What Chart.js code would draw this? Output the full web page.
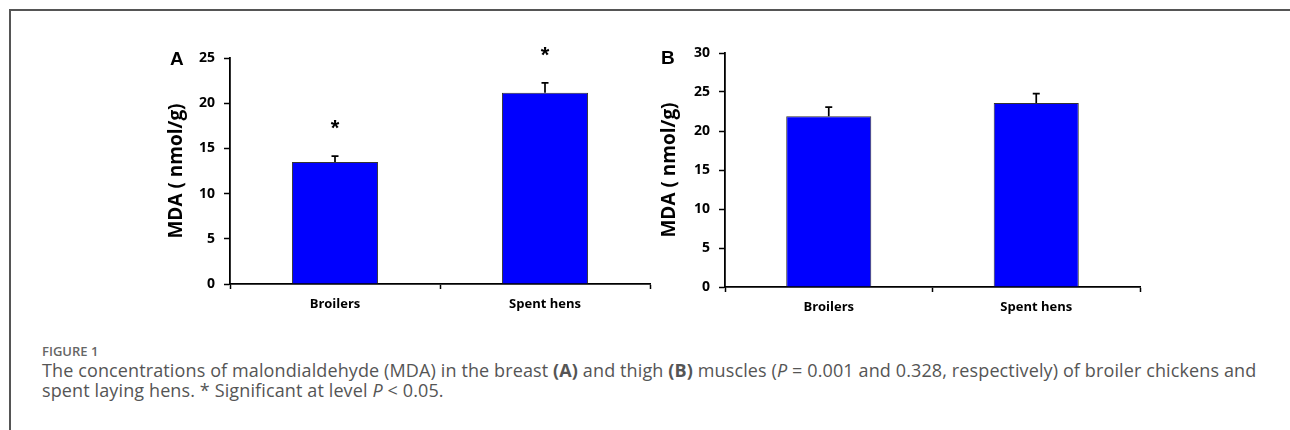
<!DOCTYPE html>
<html>
<head>
<meta charset="utf-8">
<script src="https://cdn.jsdelivr.net/npm/chart.js@4/dist/chart.umd.min.js"></script>
<style>
  body { margin: 0; width: 1290px; height: 430px; background: #fff; position: relative; overflow: hidden; }
  .frame { position: absolute; left: 9px; top: 9px; width: 1290px; height: 440px; border-left: 2px solid #555; border-top: 2px solid #555; }
  .box { position: absolute; width: 520px; height: 290px; }
  .panel { position: absolute; font: bold 19px "Liberation Sans", Arial, sans-serif; color: #000; }
  .cap { position: absolute; left: 42px; font-family: "Open Sans", sans-serif; color: #555; white-space: nowrap; }
  .figno { top: 342px; font-size: 13px; font-weight: 600; color: #666; }
  .captext { top: 360px; font-size: 18px; line-height: 20px; letter-spacing: 0.12px; }
</style>
</head>
<body>
<div class="frame"></div>
<div class="box" style="left:150px;top:30px"><canvas id="chartA"></canvas></div>
<div class="box" style="left:640px;top:30px"><canvas id="chartB"></canvas></div>
<div class="panel" style="left:170px;top:48px">A</div>
<div class="panel" style="left:661px;top:47px">B</div>
<div class="cap figno">FIGURE 1</div>
<div class="cap captext">The concentrations of malondialdehyde (MDA) in the breast <b>(A)</b> and thigh <b>(B)</b> muscles (<i>P</i> = 0.001 and 0.328, respectively) of broiler chickens and<br>spent laying hens. * Significant at level <i>P</i> &lt; 0.05.</div>
<script>
const groups = ['Broilers', 'Spent hens'];
// panel A: breast
const breastMDA = [13.5, 21.15];
const breastSE = [0.65, 1.1];
const breastSig = ['*', '*'];
// panel B: thigh
const thighMDA = [21.9, 23.6];
const thighSE = [1.15, 1.2];
const thighSig = ['', ''];

const tickFont = { family: 'Open Sans', weight: 'bold', size: 14 };
const catFont = { family: 'Open Sans', weight: 'bold', size: 13 };

// error bars + significance stars
const errPlugin = {
  id: 'errbars',
  afterDatasetsDraw(chart, args, opts) {
    const ctx = chart.ctx;
    const y = chart.scales.y;
    const meta = chart.getDatasetMeta(0);
    ctx.save();
    ctx.strokeStyle = '#000';
    ctx.lineWidth = 1.7;
    meta.data.forEach((bar, i) => {
      const top = y.getPixelForValue(opts.values[i] + opts.se[i]);
      ctx.beginPath();
      ctx.moveTo(bar.x, bar.y);
      ctx.lineTo(bar.x, top);
      ctx.moveTo(bar.x - 3.5, top);
      ctx.lineTo(bar.x + 3.5, top);
      ctx.stroke();
      if (opts.sig[i]) {
        ctx.fillStyle = '#000';
        ctx.font = 'bold 22px "Liberation Sans"';
        ctx.textAlign = 'center';
        ctx.textBaseline = 'middle';
        ctx.fillText(opts.sig[i], bar.x, top - 27);
      }
    });
    ctx.restore();
  }
};

function makeChart(id, values, se, sig, yMax, pad, yWidth, xHeight, titlePad) {
  return new Chart(document.getElementById(id), {
    type: 'bar',
    data: {
      labels: groups,
      datasets: [{
        data: values,
        backgroundColor: '#0000ff',
        borderColor: '#333',
        borderWidth: 1,
        categoryPercentage: 1,
        barPercentage: 0.41
      }]
    },
    options: {
      responsive: true,
      maintainAspectRatio: false,
      animation: false,
      layout: { padding: pad },
      plugins: {
        legend: { display: false },
        tooltip: { enabled: false },
        errbars: { values: values, se: se, sig: sig }
      },
      scales: {
        x: {
          grid: { drawOnChartArea: false, drawTicks: true, tickLength: 5, tickColor: '#000', tickWidth: 1.5 },
          border: { color: '#000', width: 1.8 },
          ticks: { color: '#000', font: catFont, padding: 7 },
          afterFit: s => { s.height = xHeight; }
        },
        y: {
          min: 0, max: yMax,
          grid: { drawOnChartArea: false, drawTicks: true, tickLength: 6, tickColor: '#000', tickWidth: 1.5 },
          border: { color: '#000', width: 1.8 },
          ticks: { stepSize: 5, color: '#000', font: tickFont, padding: 9 },
          title: {
            display: true,
            text: 'MDA ( nmol/g)',
            color: '#000',
            font: { family: 'Open Sans', weight: 'bold', size: 19 },
            padding: { top: titlePad }
          },
          afterFit: s => { s.width = yWidth; }
        }
      }
    },
    plugins: [errPlugin]
  });
}

makeChart('chartA', breastMDA, breastSE, breastSig, 25, { top: 28, right: 20, left: 0, bottom: 0 }, 80, 36, 15);
makeChart('chartB', thighMDA, thighSE, thighSig, 30, { top: 23, right: 20, left: 0, bottom: 0 }, 85, 33, 18);
</script>
</body>
</html>
